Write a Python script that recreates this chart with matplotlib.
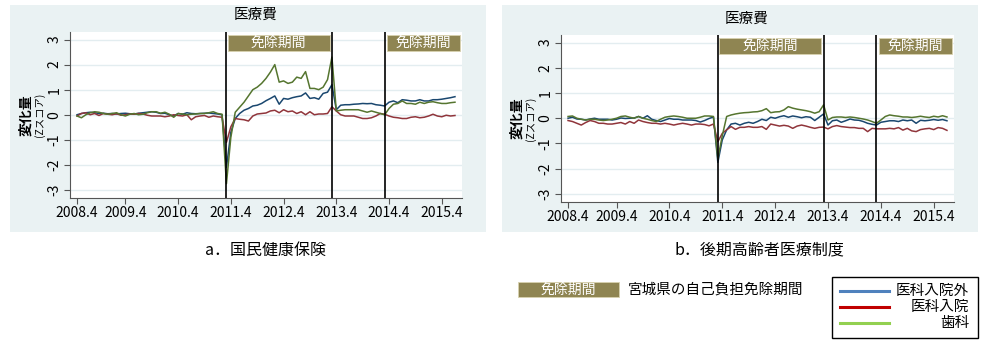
import matplotlib
matplotlib.use("Agg")
import matplotlib.pyplot as plt
from matplotlib.patches import Rectangle
from matplotlib.lines import Line2D

plt.rcParams['font.family'] = ['Noto Sans CJK JP', 'DejaVu Sans']

# months since 2008.4 (data start 2008.5)
months = list(range(1, 88))
tick_pos = [1, 12, 24, 36, 48, 60, 72, 84]
tick_labels = ["2008.4", "2009.4", "2010.4", "2011.4", "2012.4", "2013.4", "2014.4", "2015.4"]
exempt_lines = [35, 59, 71]
exempt_boxes = [(35.3, 58.5), (71.5, 88.1)]

# a. 国民健康保険
kokuho_gaikai = [0.0, 0.05, 0.08, 0.1, 0.08, 0.05, 0.06, 0.04, 0.05, 0.03, 0.05, 0.06, 0.04, 0.03, 0.06, 0.08, 0.1,
                 0.12, 0.1, 0.05, 0.06, 0.0, -0.05, 0.05, 0.02, 0.08, 0.05, 0.04, 0.05, 0.06, 0.07, 0.05, 0.03, 0.0,
                 -2.1, -0.7, -0.15, 0.05, 0.18, 0.25, 0.35, 0.38, 0.45, 0.56, 0.65, 0.75, 0.42, 0.65, 0.62, 0.68, 0.72,
                 0.75, 0.87, 0.65, 0.68, 0.62, 0.85, 0.9, 1.2,
                 0.2, 0.38, 0.4, 0.4, 0.42, 0.43, 0.45, 0.44, 0.45, 0.4, 0.38, 0.35, 0.5, 0.55, 0.48, 0.6, 0.58, 0.55,
                 0.55, 0.6, 0.55, 0.55, 0.6, 0.6, 0.62, 0.65, 0.68, 0.72]
kokuho_nyuin = [-0.05, 0.05, 0.08, 0.0, 0.05, -0.03, 0.05, 0.02, 0.0, 0.04, -0.02, 0.0, 0.03, 0.02, 0.05, 0.03, -0.02,
                -0.05, -0.05, -0.05, -0.08, -0.05, 0.0, -0.03, -0.05, 0.0, -0.2, -0.08, -0.05, -0.03, -0.1, -0.05,
                -0.08, -0.1,
                -1.1, -0.48, -0.15, -0.18, -0.2, -0.25, -0.05, 0.03, 0.05, 0.07, 0.15, 0.18, 0.08, 0.2, 0.12, 0.15,
                0.05, 0.12, 0.0, 0.12, 0.0, 0.03, 0.03, 0.05, 0.32,
                0.15, 0.0, -0.05, -0.05, -0.05, -0.1, -0.15, -0.15, -0.12, -0.05, 0.05, 0.02, -0.05, -0.1, -0.12,
                -0.15, -0.15, -0.1, -0.08, -0.12, -0.1, -0.05, 0.02, -0.05, -0.08, -0.02, -0.05, -0.03]
kokuho_shika = [-0.05, -0.12, 0.0, 0.08, 0.12, 0.1, 0.05, 0.02, 0.05, 0.08, 0.0, -0.05, 0.02, 0.05, 0.0, 0.02, 0.08,
                0.12, 0.12, 0.06, 0.1, 0.02, -0.1, 0.05, 0.03, 0.0, 0.02, 0.03, 0.05, 0.05, 0.08, 0.12, 0.05, 0.02,
                -2.75, -0.9, 0.1, 0.3, 0.5, 0.75, 1.0, 1.1, 1.25, 1.45, 1.7, 2.0, 1.3, 1.35, 1.25, 1.3, 1.5, 1.45,
                1.72, 1.05, 1.05, 1.0, 1.1, 1.4, 2.3,
                0.15, 0.18, 0.2, 0.2, 0.2, 0.2, 0.15, 0.1, 0.15, 0.1, 0.05, 0.0, 0.25, 0.42, 0.45, 0.55, 0.45, 0.45,
                0.42, 0.5, 0.45, 0.5, 0.52, 0.48, 0.45, 0.45, 0.48, 0.5]

# b. 後期高齢者医療制度
kouki_gaikai = [0.0, 0.04, -0.03, -0.04, -0.07, -0.03, 0.0, -0.04, -0.04, -0.04, -0.07, -0.04, 0.01, -0.01, 0.0, 0.01,
                0.07, 0.0, 0.1, -0.04, -0.09, -0.13, -0.07, -0.01, -0.04, -0.04, -0.07, -0.07, -0.07, -0.09, -0.15,
                -0.09, -0.01, 0.05,
                -1.75, -0.86, -0.46, -0.23, -0.2, -0.27, -0.2, -0.16, -0.2, -0.13, -0.04, -0.09, 0.04, 0.0, 0.06,
                0.1, 0.04, 0.09, 0.06, 0.02, 0.06, 0.04, -0.09, 0.04, 0.17,
                -0.27, -0.1, -0.07, -0.16, -0.1, -0.03, -0.07, -0.08, -0.13, -0.2, -0.24, -0.27, -0.16, -0.13, -0.1,
                -0.1, -0.13, -0.07, -0.1, -0.07, -0.2, -0.08, -0.1, -0.08, -0.05, -0.08, -0.05, -0.1]
kouki_nyuin = [-0.09, -0.13, -0.2, -0.27, -0.17, -0.09, -0.13, -0.2, -0.2, -0.23, -0.23, -0.2, -0.17, -0.23, -0.13,
               -0.2, -0.07, -0.13, -0.17, -0.2, -0.2, -0.23, -0.2, -0.23, -0.27, -0.23, -0.2, -0.23, -0.27, -0.23,
               -0.23, -0.25, -0.3, -0.23,
               -0.93, -0.6, -0.46, -0.33, -0.44, -0.36, -0.36, -0.33, -0.36, -0.36, -0.33, -0.44, -0.23, -0.27,
               -0.31, -0.28, -0.31, -0.4, -0.31, -0.27, -0.31, -0.36, -0.4, -0.36, -0.35,
               -0.42, -0.33, -0.29, -0.33, -0.35, -0.37, -0.37, -0.4, -0.4, -0.53, -0.4, -0.42, -0.42, -0.42, -0.4,
               -0.42, -0.37, -0.47, -0.4, -0.5, -0.53, -0.45, -0.42, -0.4, -0.45, -0.37, -0.4, -0.48]
kouki_shika = [0.07, 0.09, 0.0, -0.04, -0.07, -0.04, -0.04, -0.07, -0.09, -0.07, -0.04, 0.0, 0.07, 0.09, 0.04, 0.0,
               0.07, 0.0, -0.04, -0.09, -0.13, -0.04, 0.04, 0.07, 0.09, 0.07, 0.04, 0.0, 0.0, 0.0, 0.04, 0.09, 0.09,
               0.07,
               -1.6, -0.7, 0.07, 0.13, 0.17, 0.2, 0.22, 0.23, 0.25, 0.26, 0.3, 0.38, 0.22, 0.25, 0.26, 0.33, 0.46,
               0.4, 0.36, 0.33, 0.3, 0.26, 0.2, 0.26, 0.53,
               -0.07, 0.03, 0.05, 0.05, 0.03, 0.05, 0.03, 0.0, -0.03, -0.07, -0.13, -0.2, -0.07, 0.07, 0.13, 0.1,
               0.08, 0.05, 0.05, 0.03, 0.05, 0.08, 0.05, 0.03, 0.08, 0.05, 0.1, 0.05]

line_colors = ["#1a476f", "#90353b", "#55752f"]
legend_colors = ["#4f81bd", "#c00000", "#92d050"]
legend_names = ["医科入院外", "医科入院", "歯科"]
olive = "#8f8552"
panel_bg = "#eaf2f3"

fig = plt.figure(figsize=(9.9, 3.45), dpi=100)


def draw_panel(bg_rect, ax_rect, series, title_xy, caption, caption_xy):
    fig.patches.append(Rectangle(bg_rect[:2], bg_rect[2], bg_rect[3], transform=fig.transFigure,
                                 facecolor=panel_bg, edgecolor="none", zorder=-5))
    ax = fig.add_axes(ax_rect)
    ax.set_facecolor("white")
    for y in range(-3, 4):
        ax.axhline(y, color="#e3edf0", lw=1.0, zorder=1)
    for vals, c in zip(series, line_colors):
        ax.plot(months, vals, color=c, lw=1.1, zorder=3)
    for xv in exempt_lines:
        ax.axvline(xv, color="black", lw=1.2, zorder=4)
    for x0, x1 in exempt_boxes:
        ax.add_patch(Rectangle((x0, 2.53), x1 - x0, 0.66, facecolor=olive, edgecolor="#d8d2b0",
                               lw=0.6, zorder=5))
        ax.text((x0 + x1) / 2, 2.86, "免除期間", color="white", ha="center", va="center",
                fontsize=10, zorder=6)
    ax.set_xlim(-0.6, 88.6)
    ax.set_ylim(-3.32, 3.3)
    ax.set_yticks(range(-3, 4))
    ax.set_yticklabels([str(v) for v in range(-3, 4)], rotation=90, va="center")
    ax.set_xticks(tick_pos)
    ax.set_xticklabels(tick_labels)
    ax.tick_params(axis="both", labelsize=10, color="#555555", length=4, width=0.8, pad=2)
    for s in ["top", "right"]:
        ax.spines[s].set_visible(False)
    for s in ["left", "bottom"]:
        ax.spines[s].set_color("#555555")
        ax.spines[s].set_linewidth(0.8)
    fig.text(title_xy[0] / 990, 1 - title_xy[1] / 345, "医療費", ha="center", va="center", fontsize=10.5)
    fig.text((ax_rect[0] * 990 - 44) / 990, ax_rect[1] + ax_rect[3] / 2, "変化量", rotation=90,
             ha="center", va="center", fontsize=10, fontweight="bold")
    fig.text((ax_rect[0] * 990 - 30) / 990, ax_rect[1] + ax_rect[3] / 2, "(Zスコア)", rotation=90,
             ha="center", va="center", fontsize=7.5)
    fig.text(caption_xy[0] / 990, 1 - caption_xy[1] / 345, caption, ha="center", va="center", fontsize=11.5)
    return ax


draw_panel((10 / 990, 1 - 232 / 345, 476 / 990, 227 / 345),
           [70 / 990, 1 - 198 / 345, 392 / 990, 166 / 345],
           [kokuho_gaikai, kokuho_nyuin, kokuho_shika], (256, 15), "a．国民健康保険", (265, 250))
draw_panel((502 / 990, 1 - 232 / 345, 476 / 990, 227 / 345),
           [561 / 990, 1 - 202 / 345, 393 / 990, 167 / 345],
           [kouki_gaikai, kouki_nyuin, kouki_shika], (747, 19), "b．後期高齢者医療制度", (759, 250))

# bottom legend: exemption period box
fig.patches.append(Rectangle((518 / 990, 1 - 297 / 345), 101 / 990, 15 / 345, transform=fig.transFigure,
                             facecolor=olive, edgecolor="#d8d2b0", lw=0.6))
fig.text(568 / 990, 1 - 289.5 / 345, "免除期間", color="white", ha="center", va="center", fontsize=10)
fig.text(628 / 990, 1 - 289.5 / 345, "宮城県の自己負担免除期間", ha="left", va="center", fontsize=10.5)

# bottom legend: series
fig.patches.append(Rectangle((832 / 990, 1 - 338 / 345), 146 / 990, 61 / 345, transform=fig.transFigure,
                             facecolor="white", edgecolor="black", lw=1.0))
for i, (name, c) in enumerate(zip(legend_names, legend_colors)):
    yy = 1 - (291 + i * 16) / 345
    fig.add_artist(Line2D([840 / 990, 889 / 990], [yy, yy], color=c, lw=2.2, transform=fig.transFigure))
    fig.text(969 / 990, yy, name, ha="right", va="center", fontsize=10.5)

fig.savefig("out.png", dpi=100)
